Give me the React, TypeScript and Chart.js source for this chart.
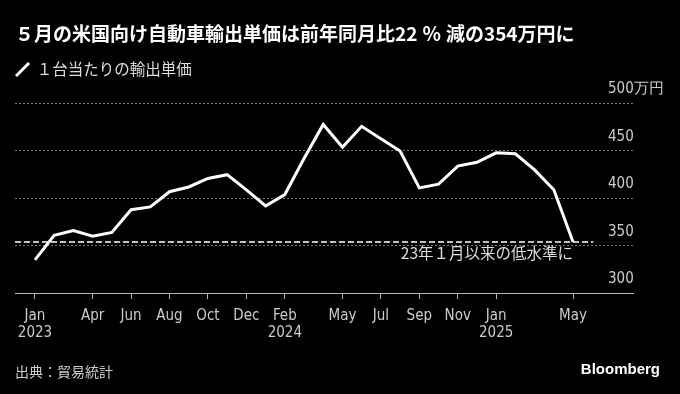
import React, { useEffect, useRef } from 'react';
import { Chart, registerables } from 'chart.js';

Chart.register(...registerables);

const FONT_CJK = '"Noto Sans CJK JP", "Noto Sans", sans-serif';
const FONT_AXIS = '"DejaVu Sans Condensed", "DejaVu Sans", sans-serif';

const titleText = '５月の米国向け自動車輸出単価は前年同月比22\u2005％\u2005減の354万円に';
const seriesLabel = '１台当たりの輸出単価';
const sourceText = '出典：貿易統計';
const brandText = 'Bloomberg';
const annotationText = '23年１月以来の低水準に';

// Monthly unit export price (10,000 yen), Jan 2023 .. May 2025
const unitPrice = [
  335, 361, 366, 360, 364, 388, 391, 407, 412, 421, 425, 409,
  392, 404, 442, 478, 454, 476, 463, 450, 411, 415, 434, 438,
  448, 447, 430, 409, 354,
];

const tickIndices = [0, 3, 5, 7, 9, 11, 13, 16, 18, 20, 22, 24, 28];
const tickLabels = [
  ['Jan', '2023'], ['Apr'], ['Jun'], ['Aug'], ['Oct'], ['Dec'], ['Feb', '2024'],
  ['May'], ['Jul'], ['Sep'], ['Nov'], ['Jan', '2025'], ['May'],
];

const yTicks = [300, 350, 400, 450, 500];
const yTickLabels = ['300', '350', '400', '450', '500万円'];

const X_MIN = -1.04;
const X_MAX = 31.12;
const REF_END = 29.05;
const Y_MIN = 300;
const Y_MAX = 500;
const LEGEND_GAP = 16.3;

export default function App() {
  const ref = useRef<HTMLCanvasElement>(null);

  useEffect(() => {
    document.body.style.margin = '0';
    document.body.style.background = '#000';
    const canvas = ref.current!;
    const lowLevel = unitPrice[unitPrice.length - 1];

    const extras = {
      id: 'extras',
      beforeLayout(chart: any) {
        const lg = chart.legend;
        if (lg && !lg.__patched) {
          const f = lg.fit;
          lg.fit = function () {
            f.call(this);
            this.height += LEGEND_GAP;
          };
          lg.__patched = true;
        }
      },
      afterDraw(chart: any) {
        const ctx = chart.ctx as CanvasRenderingContext2D;
        const xs = chart.scales.x;
        const ys = chart.scales.y;
        ctx.save();
        ctx.font = `15.5px ${FONT_CJK}`;
        ctx.fillStyle = '#dddddd';
        ctx.textAlign = 'right';
        ctx.textBaseline = 'middle';
        ctx.fillText(
          annotationText,
          xs.getPixelForValue(unitPrice.length - 1),
          ys.getPixelForValue(lowLevel) + 11
        );
        ctx.font = `bold 15px "Liberation Sans", Arial, sans-serif`;
        ctx.fillStyle = '#ffffff';
        ctx.textAlign = 'right';
        ctx.fillText(brandText, 660, chart.height - 24.5);
        ctx.restore();
      },
    };

    const chart = new Chart(canvas, {
      type: 'line',
      data: {
        datasets: [
          {
            label: seriesLabel,
            data: unitPrice.map((v, i) => ({ x: i, y: v })),
            borderColor: '#ffffff',
            backgroundColor: '#ffffff',
            borderWidth: 3,
            pointRadius: 0,
            pointHoverRadius: 0,
            pointStyle: 'line',
            pointRotation: -45,
            pointBorderWidth: 3,
            pointBorderColor: '#ffffff',
            pointBackgroundColor: '#ffffff',
            borderJoinStyle: 'miter',
            tension: 0,
            order: 0,
          } as any,
          {
            label: 'ref',
            data: [
              { x: X_MIN, y: lowLevel },
              { x: REF_END, y: lowLevel },
            ],
            borderColor: '#ffffff',
            borderWidth: 1.5,
            borderDash: [6, 3],
            pointRadius: 0,
            pointHoverRadius: 0,
            order: 1,
          } as any,
        ],
      },
      options: {
        animation: false,
        responsive: false,
        devicePixelRatio: 1,
        events: [],
        layout: { padding: { left: 15, right: 47, top: 0, bottom: 0 } },
        plugins: {
          title: {
            display: true,
            text: titleText,
            align: 'start',
            color: '#ffffff',
            font: { family: FONT_CJK, size: 19, weight: 'bold', lineHeight: 1.2 },
            padding: { top: 22, bottom: 16 },
          },
          subtitle: {
            display: true,
            position: 'bottom',
            text: sourceText,
            align: 'start',
            color: '#cccccc',
            font: { family: FONT_CJK, size: 14, lineHeight: 1.2 },
            padding: { top: 13, bottom: 14 },
          },
          legend: {
            display: true,
            position: 'top',
            align: 'start',
            labels: {
              usePointStyle: true,
              boxWidth: 13,
              boxHeight: 13,
              padding: 1,
              color: '#dddddd',
              font: { family: FONT_CJK, size: 15.5 },
              filter: (item: any) => item.datasetIndex === 0,
            },
          },
          tooltip: { enabled: false },
        } as any,
        scales: {
          x: {
            type: 'linear',
            min: X_MIN,
            max: X_MAX,
            afterBuildTicks: (s: any) => {
              s.ticks = tickIndices.map((v) => ({ value: v }));
            },
            ticks: {
              autoSkip: false,
              maxRotation: 0,
              minRotation: 0,
              padding: 8,
              color: '#cccccc',
              font: { family: FONT_AXIS, size: 15, lineHeight: 1.17 },
              callback: (v: any) => {
                const k = tickIndices.indexOf(Number(v));
                return k >= 0 ? tickLabels[k] : '';
              },
            },
            grid: {
              display: true,
              drawOnChartArea: false,
              drawTicks: true,
              tickLength: 6,
              tickColor: '#aaaaaa',
              tickWidth: 1,
            },
            border: { display: true, color: '#bbbbbb', width: 1 },
          },
          y: {
            type: 'linear',
            position: 'right',
            min: Y_MIN,
            max: Y_MAX,
            afterBuildTicks: (s: any) => {
              s.ticks = yTicks.map((v) => ({ value: v }));
            },
            afterFit: (s: any) => {
              s.width = 0;
              // let the labels overhang the (zero-width) axis box
              s._computeLabelArea = () => undefined;
            },
            ticks: {
              autoSkip: false,
              padding: -25,
              labelOffset: -14,
              color: '#cccccc',
              font: { family: FONT_AXIS, size: 15 },
              callback: (v: any) => {
                const k = yTicks.indexOf(Number(v));
                return k >= 0 ? yTickLabels[k] : '';
              },
            },
            grid: { color: '#777777', lineWidth: 1, drawTicks: false },
            border: { display: false, dash: [2, 2] },
          },
        } as any,
      },
      plugins: [extras],
    });

    return () => chart.destroy();
  }, []);

  return (
    <div style={{ position: 'absolute', left: 0, top: 0, width: 680, height: 394, background: '#000' }}>
      <canvas ref={ref} width={680} height={394} style={{ display: 'block' }} />
    </div>
  );
}
